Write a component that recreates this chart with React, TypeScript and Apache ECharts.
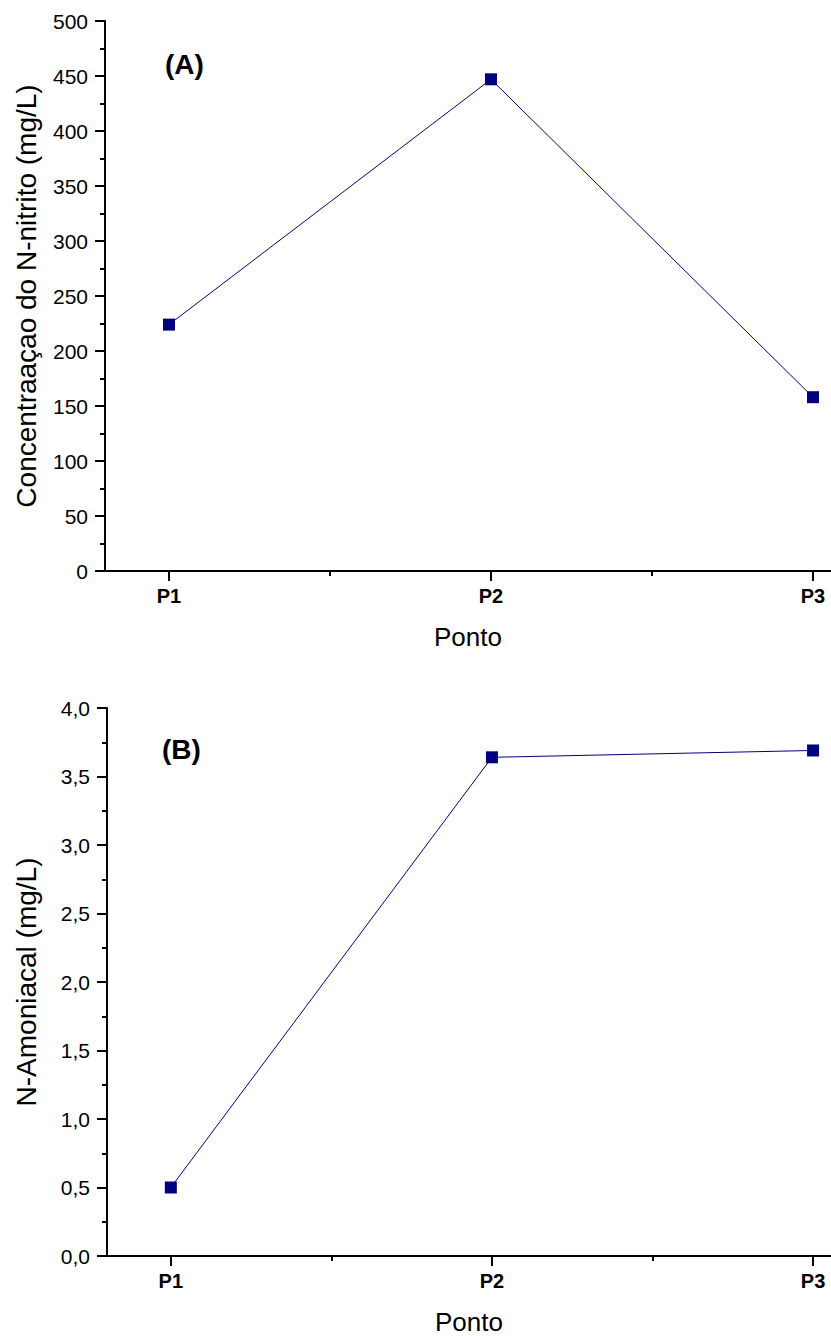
import React, { useEffect, useRef } from "react";
import * as echarts from "echarts";

const categories = ["P1", "P2", "P3"];
const categoryPositions = [1, 2, 3];
const minorTickPositions = [1.5, 2.5];
const nitrito = [224, 447, 158];
const amoniacal = [0.5, 3.64, 3.69];
const panelLabels = ["(A)", "(B)"];
const yNames = ["Concentraaçao do N-nitrito (mg/L)", "N-Amoniacal (mg/L)"];
const xName = "Ponto";

const FONT = "Liberation Sans, Arial, sans-serif";
const NAVY = "#000080";

export default function App() {
  const ref = useRef<HTMLDivElement>(null);
  useEffect(() => {
    if (!ref.current) return;
    const chart = echarts.init(ref.current, undefined, { renderer: "svg" });
    const axisLine = { show: true, onZero: false, lineStyle: { color: "#000", width: 2 } };
    const xMin = 0.8012;
    const xMax = 3.0559;
    const mainX = (gridIndex: number) => ({
      type: "value",
      gridIndex,
      position: "bottom",
      min: xMin,
      max: xMax,
      name: xName,
      nameLocation: "middle",
      nameGap: 53,
      nameTextStyle: { fontFamily: FONT, fontSize: 26, color: "#000" },
      axisLine,
      splitLine: { show: false },
      axisTick: { show: true, length: 10, customValues: categoryPositions, lineStyle: { color: "#000", width: 2 } },
      axisLabel: {
        show: true,
        customValues: categoryPositions,
        margin: 15,
        fontFamily: FONT,
        fontSize: 20,
        fontWeight: "bold",
        color: "#000",
        formatter: (v: number) => categories[Math.round(v) - 1] ?? "",
      },
    });
    const minorX = (gridIndex: number) => ({
      type: "value",
      gridIndex,
      position: "bottom",
      min: xMin,
      max: xMax,
      axisLine: { show: false, onZero: false },
      splitLine: { show: false },
      axisTick: { show: true, length: 5, customValues: minorTickPositions, lineStyle: { color: "#000", width: 2 } },
      axisLabel: { show: false },
    });
    const yAx = (gridIndex: number, max: number, interval: number, fmt: (v: number) => string, name: string, gap: number) => ({
      type: "value",
      gridIndex,
      min: 0,
      max,
      interval,
      name,
      nameLocation: "middle",
      nameGap: gap,
      nameTextStyle: { fontFamily: FONT, fontSize: 28, color: "#000" },
      axisLine: { show: true, lineStyle: { color: "#000", width: 2 } },
      splitLine: { show: false },
      axisTick: { show: true, length: 10, lineStyle: { color: "#000", width: 2 } },
      minorTick: { show: true, splitNumber: 2, length: 5, lineStyle: { color: "#000", width: 2 } },
      minorSplitLine: { show: false },
      axisLabel: { margin: 17, fontFamily: FONT, fontSize: 21, color: "#000", formatter: fmt },
    });
    const series = (data: number[], xi: number, yi: number) => ({
      type: "line",
      xAxisIndex: xi,
      yAxisIndex: yi,
      data: data.map((v, i) => [categoryPositions[i], v]),
      symbol: "rect",
      symbolSize: 12,
      itemStyle: { color: NAVY },
      lineStyle: { color: NAVY, width: 1 },
    });
    chart.setOption({
      animation: false,
      backgroundColor: "#fff",
      grid: [
        { left: 105, top: 21, width: 726, height: 550 },
        { left: 107, top: 708, width: 724, height: 549 },
      ],
      xAxis: [mainX(0), minorX(0), mainX(1), minorX(1)],
      yAxis: [
        yAx(0, 500, 50, (v: number) => String(v), yNames[0], 65),
        yAx(1, 4, 0.5, (v: number) => v.toFixed(1).replace(".", ","), yNames[1], 67),
      ],
      series: [series(nitrito, 0, 0), series(amoniacal, 2, 1)],
      graphic: [
        { type: "text", left: 165, top: 50, style: { text: panelLabels[0], font: `bold 28px ${FONT}`, fill: "#000" } },
        { type: "text", left: 162, top: 735, style: { text: panelLabels[1], font: `bold 28px ${FONT}`, fill: "#000" } },
      ],
    });
    return () => chart.dispose();
  }, []);
  return <div ref={ref} style={{ position: "absolute", left: 0, top: 0, width: 831, height: 1336 }} />;
}
